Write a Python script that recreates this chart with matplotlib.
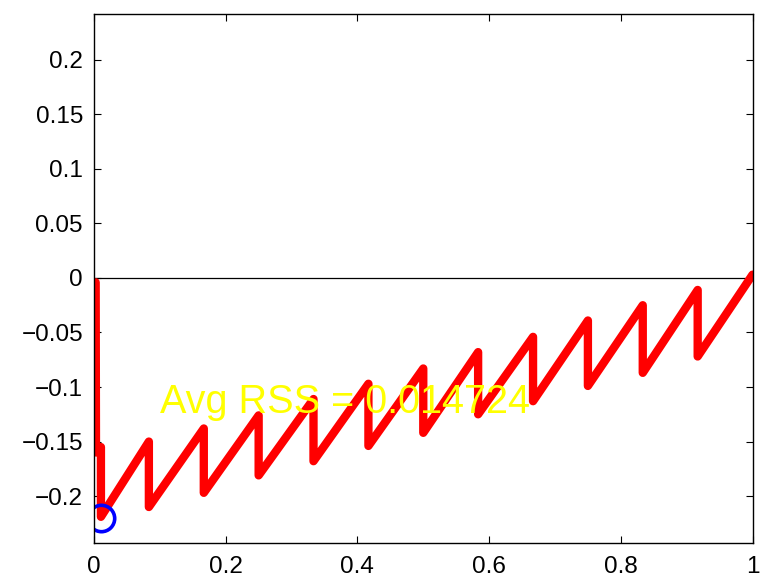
'''
sawtooth residual plot with average RSS label (matlab style figure)
'''

import matplotlib
matplotlib.use('Agg')
import matplotlib.pyplot as plt

plt.rcParams['font.family'] = ['Liberation Sans', 'DejaVu Sans']

# residual trace
x_vals = [0.0025, 0.003, 0.0105, 0.0105,
          0.0833, 0.0833, 0.1667, 0.1667, 0.25, 0.25, 0.3333, 0.3333,
          0.4167, 0.4167, 0.5, 0.5, 0.5833, 0.5833, 0.6667, 0.6667,
          0.75, 0.75, 0.8333, 0.8333, 0.9167, 0.9167, 1.0]
y_vals = [-0.004, -0.160, -0.155, -0.219,
          -0.150, -0.210, -0.138, -0.197, -0.126, -0.181, -0.111, -0.168,
          -0.097, -0.154, -0.083, -0.142, -0.068, -0.125, -0.054, -0.113,
          -0.039, -0.099, -0.025, -0.087, -0.011, -0.072, 0.003]

# minimum marker
min_x = 0.0106
min_y = -0.220

avg_rss = 0.014724
label_x = 0.1
label_y = -0.124

fig = plt.figure(figsize=(7.65, 5.82), dpi=100)
ax = fig.add_axes([0.1229, 0.067, 0.8608, 0.909])

ax.axhline(0, color='k', lw=0.9)
ax.plot(x_vals, y_vals, color='r', lw=6, solid_joinstyle='round',
        solid_capstyle='round')
ax.plot(min_x, min_y, 'o', mfc='none', mec='b', ms=19, mew=2.6)
ax.text(label_x, label_y, 'Avg RSS = %g' % avg_rss, color='yellow',
        fontsize=28.5, va='baseline', ha='left')

ax.set_xlim(0, 1)
ax.set_ylim(-0.243, 0.242)
ax.set_xticks([0, 0.2, 0.4, 0.6, 0.8, 1])
ax.set_xticklabels(['0', '0.2', '0.4', '0.6', '0.8', '1'])
ax.set_yticks([-0.2, -0.15, -0.1, -0.05, 0, 0.05, 0.1, 0.15, 0.2])
ax.set_yticklabels(['\u22120.2', '\u22120.15', '\u22120.1', '\u22120.05', '0',
                    '0.05', '0.1', '0.15', '0.2'])
ax.tick_params(direction='in', length=4.7, width=0.8, labelsize=17.5,
               top=True, right=True)
ax.tick_params(axis='x', pad=9.5)
ax.tick_params(axis='y', pad=8)
for s in ax.spines.values():
    s.set_linewidth(1.0)

fig.savefig('out.png', dpi=100)
plt.close()
